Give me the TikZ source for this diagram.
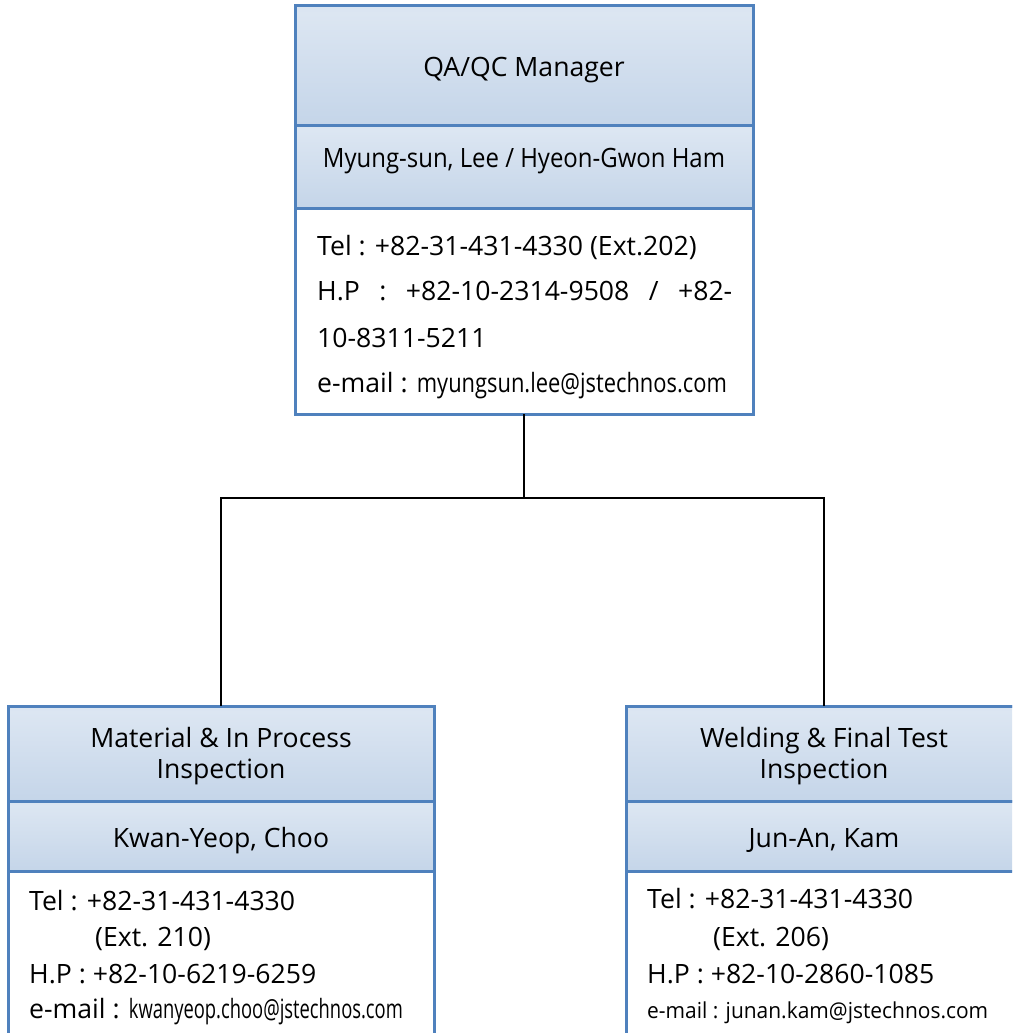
\documentclass[tikz,border=0pt]{standalone}
\usepackage{fontspec}
\setmainfont{Open Sans}
\usepackage{graphicx}
\definecolor{bord}{HTML}{4F81BD}
\definecolor{bandtop}{HTML}{BFD1E8}
\definecolor{bandmid}{HTML}{DCE6F2}
\definecolor{bandbot}{HTML}{B8CCE4}
\pgfdeclareverticalshading{bandshade}{100bp}{color(0bp)=(bandbot); color(72bp)=(bandmid); color(100bp)=(bandtop)}
\newcommand\fsz{\fontsize{26.6pt}{30pt}\selectfont}
\tikzset{
  box/.style={draw=bord, line width=3pt, fill=white, inner sep=0pt, outer sep=0pt},
  hdr/.style={draw=bord, line width=3pt, shading=bandshade, inner sep=0pt, outer sep=0pt},
  lab/.style={inner sep=0pt, font=\fsz, text=black},
  conn/.style={draw=black, line width=2pt}
}
\begin{document}
\begin{tikzpicture}[x=1pt,y=-1pt]
\useasboundingbox (0,0) rectangle (1012,1033);
\clip (0,0) rectangle (1012,1033);
\fill[white] (0,0) rectangle (1012,1033);
% top box
\node[box, minimum width=458pt, minimum height=408pt] (qa) at (524,210) {};
\node[hdr, minimum width=458pt, minimum height=119pt] (qahead) at (524,65.5) {};
\node[hdr, minimum width=458pt, minimum height=83pt] (qaname) at (524,166.5) {};
\node[lab, anchor=base] (t1) at (524,77) {QA/QC Manager};
\node[lab, anchor=base] (t2) at (524,167) {\resizebox{402pt}{\height}{Myung-sun, Lee / Hyeon-Gwon Ham}};
\node[lab, anchor=base west] (t3) at (317,255) {Tel : +82-31-431-4330 (Ext.202)};
\node[lab, anchor=base west] (t4) at (317,300) {\makebox[415pt][s]{H.P\ \ :\ \ +82-10-2314-9508\ \ /\ \ +82-}};
\node[lab, anchor=base west] (t5) at (317,347) {10-8311-5211};
\node[lab, anchor=base west] (t6) at (317,392) {e-mail : \resizebox{310pt}{\height}{myungsun.lee@jstechnos.com}};
% bottom left
\node[box, minimum width=426pt, minimum height=360pt] (mat) at (221,886) {};
\node[hdr, minimum width=426pt, minimum height=95pt] (mathead) at (221,753.5) {};
\node[hdr, minimum width=426pt, minimum height=70pt] (matname) at (221,836) {};
\node[lab, anchor=base] (m1) at (221,747) {Material \& In Process};
\node[lab, anchor=base] (m2) at (221,778) {Inspection};
\node[lab, anchor=base] (m3) at (221,847) {Kwan-Yeop, Choo};
\node[lab, anchor=base west] (m4) at (29,910) {Tel : +82-31-431-4330};
\node[lab, anchor=base west] (m5) at (95,946) {(Ext. 210)};
\node[lab, anchor=base west] (m6) at (29,983) {H.P : +82-10-6219-6259};
\node[lab, anchor=base west] (m7) at (29,1018) {e-mail : \resizebox{274pt}{\height}{kwanyeop.choo@jstechnos.com}};
% bottom right
\node[box, minimum width=396pt, minimum height=360pt] (weld) at (824,886) {};
\node[hdr, minimum width=396pt, minimum height=95pt] (weldhead) at (824,753.5) {};
\node[hdr, minimum width=396pt, minimum height=70pt] (weldname) at (824,836) {};
\node[lab, anchor=base] (w1) at (824,747) {Welding \& Final Test};
\node[lab, anchor=base] (w2) at (824,778) {Inspection};
\node[lab, anchor=base] (w3) at (824,847) {Jun-An, Kam};
\node[lab, anchor=base west] (w4) at (647,908) {Tel : +82-31-431-4330};
\node[lab, anchor=base west] (w5) at (713,946) {(Ext. 206)};
\node[lab, anchor=base west] (w6) at (647,983) {H.P : +82-10-2860-1085};
\node[lab, anchor=base west, font=\fontsize{22pt}{26pt}\selectfont] (w7) at (647,1018) {\resizebox{341pt}{\height}{e-mail : junan.kam@jstechnos.com}};
% connectors
\coordinate (j) at (524,498);
\draw[conn] (qa.south) -- (j);
\draw[conn] (j) -| (mat.north);
\draw[conn] (j) -| (weld.north);
\end{tikzpicture}
\end{document}
